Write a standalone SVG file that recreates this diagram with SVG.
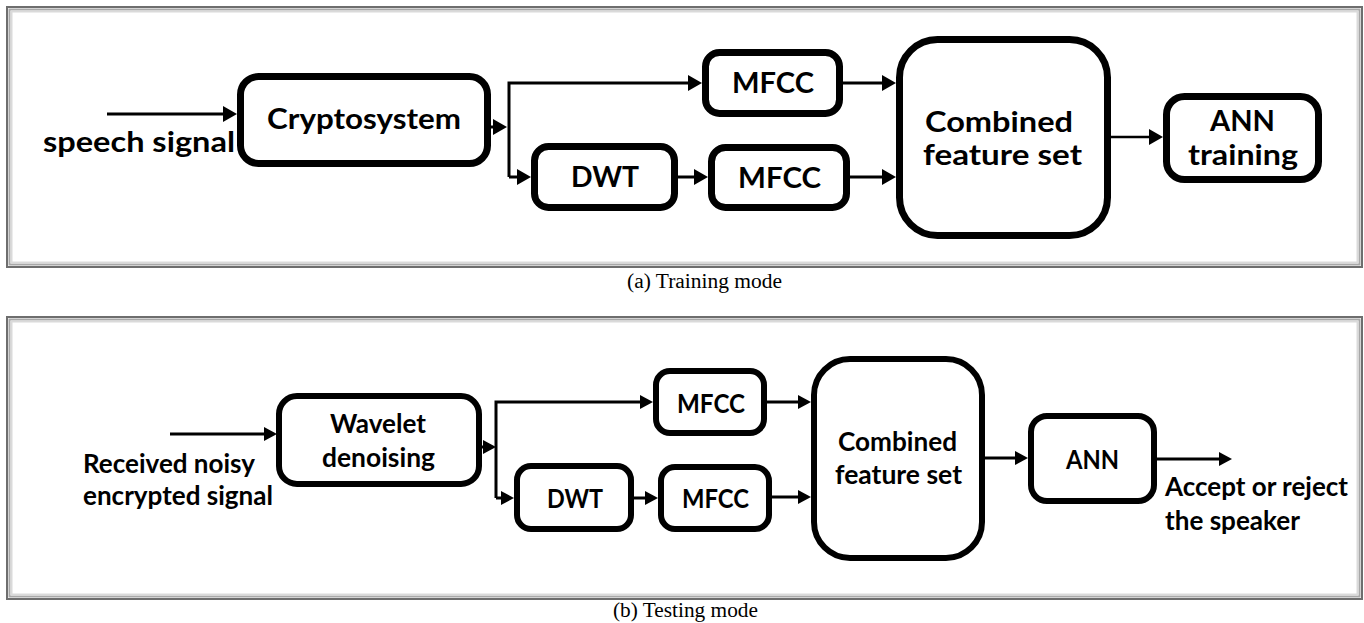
<svg xmlns="http://www.w3.org/2000/svg" width="1364" height="623" viewBox="0 0 1364 623">
  <defs>
    <marker id="arrow" viewBox="0 0 14 16" refX="2" refY="8" markerWidth="14" markerHeight="16" markerUnits="userSpaceOnUse" orient="auto">
      <path d="M0,0 L14,8 L0,16 z" fill="#000"/>
    </marker>
    <marker id="arrow-s" viewBox="0 0 13 14" refX="2" refY="7" markerWidth="13" markerHeight="14" markerUnits="userSpaceOnUse" orient="auto">
      <path d="M0,0 L13,7 L0,14 z" fill="#000"/>
    </marker>
  </defs>
  <style>
    .panel { fill: #fff; stroke: #6e6e6e; stroke-width: 2; }
    .inner1 { fill: none; stroke: #a8a8a8; stroke-width: 2; }
    .inner2 { fill: none; stroke: #dadada; stroke-width: 2; }
    .box { fill: #fff; stroke: #000; stroke-width: 7; }
    .boxb { fill: #fff; stroke: #000; stroke-width: 6; }
    .wire { fill: none; stroke: #000; stroke-width: 3; marker-end: url(#arrow); }
    .wireb { fill: none; stroke: #000; stroke-width: 3; marker-end: url(#arrow-s); }
    .lbl { font-family: Lato, "Open Sans", "Liberation Sans", sans-serif; font-weight: 700; font-size: 28px; fill: #000; }
    .lblb { font-family: Lato, "Open Sans", "Liberation Sans", sans-serif; font-weight: 700; font-size: 26px; fill: #000; }
    .cap { font-family: "Liberation Serif", "Times New Roman", serif; font-size: 20px; fill: #000; }
  </style>

  <!-- panel frames -->
  <g id="panel-training">
    <rect class="panel" x="7" y="7" width="1355" height="260"/>
    <rect class="inner1" x="9.5" y="9.5" width="1350" height="255"/>
    <rect class="inner2" x="11.5" y="11.5" width="1346" height="251"/>
  </g>
  <g id="panel-testing">
    <rect class="panel" x="7" y="317" width="1355" height="282"/>
    <rect class="inner1" x="9.5" y="319.5" width="1350" height="277"/>
    <rect class="inner2" x="11.5" y="321.5" width="1346" height="273"/>
  </g>

  <!-- training mode connectors -->
  <g id="connectors-training">
    <path class="wire" d="M107,114 L225,114"/>
    <path class="wire" d="M491,127 L495,127"/>
    <path class="wire" d="M509,177 L509,83 L690,83"/>
    <path class="wire" d="M509,177 L519,177"/>
    <path class="wire" d="M678,177 L696,177"/>
    <path class="wire" d="M843,83 L884,83"/>
    <path class="wire" d="M850,177 L884,177"/>
    <path class="wire" d="M1111,137 L1151,137" style="stroke-width:2.5"/>
  </g>

  <!-- training mode nodes -->
  <g id="speech-signal">
    <text class="lbl" x="43" y="152" textLength="192" lengthAdjust="spacingAndGlyphs">speech signal</text>
  </g>
  <g id="cryptosystem">
    <rect class="box" x="240.5" y="76.5" width="247" height="87" rx="18"/>
    <text class="lbl" x="267" y="129" textLength="194" lengthAdjust="spacingAndGlyphs">Cryptosystem</text>
  </g>
  <g id="mfcc-a1">
    <rect class="box" x="705.5" y="52.5" width="134" height="61" rx="14"/>
    <text class="lbl" x="732" y="93" textLength="82" lengthAdjust="spacingAndGlyphs">MFCC</text>
  </g>
  <g id="dwt-a">
    <rect class="box" x="534.5" y="146.5" width="140" height="61" rx="14"/>
    <text class="lbl" x="571" y="187" textLength="68" lengthAdjust="spacingAndGlyphs">DWT</text>
  </g>
  <g id="mfcc-a2">
    <rect class="box" x="711.5" y="147.5" width="135" height="60" rx="14"/>
    <text class="lbl" x="738" y="188" textLength="83" lengthAdjust="spacingAndGlyphs">MFCC</text>
  </g>
  <g id="combined-a">
    <rect class="box" x="899.5" y="39.5" width="208" height="196" rx="38"/>
    <text class="lbl" x="925" y="132" textLength="148" lengthAdjust="spacingAndGlyphs">Combined</text>
    <text class="lbl" x="923" y="165" textLength="159" lengthAdjust="spacingAndGlyphs">feature set</text>
  </g>
  <g id="ann-training">
    <rect class="box" x="1166.5" y="96.5" width="152" height="83" rx="18"/>
    <text class="lbl" x="1210" y="131" textLength="65" lengthAdjust="spacingAndGlyphs">ANN</text>
    <text class="lbl" x="1188" y="165" textLength="110" lengthAdjust="spacingAndGlyphs">training</text>
  </g>
  <text class="cap" x="627" y="288" textLength="155" lengthAdjust="spacingAndGlyphs">(a) Training mode</text>

  <!-- testing mode connectors -->
  <g id="connectors-testing">
    <path class="wireb" d="M170,434 L266,434"/>
    <path class="wireb" d="M482,447 L485,447"/>
    <path class="wireb" d="M496,498 L496,402 L642,402"/>
    <path class="wireb" d="M496,498 L503,498"/>
    <path class="wireb" d="M634,498 L647,498"/>
    <path class="wireb" d="M767,402 L800,402"/>
    <path class="wireb" d="M772,497 L800,497"/>
    <path class="wireb" d="M985,458 L1017,458"/>
    <path class="wireb" d="M1157,459 L1221,459"/>
  </g>

  <!-- testing mode nodes -->
  <g id="received-signal">
    <text class="lblb" x="83" y="473" textLength="172" lengthAdjust="spacingAndGlyphs">Received noisy</text>
    <text class="lblb" x="83" y="505" textLength="190" lengthAdjust="spacingAndGlyphs">encrypted signal</text>
  </g>
  <g id="wavelet-denoising">
    <rect class="boxb" x="279" y="396" width="200" height="88" rx="18"/>
    <text class="lblb" x="330" y="433" textLength="96" lengthAdjust="spacingAndGlyphs">Wavelet</text>
    <text class="lblb" x="322" y="467" textLength="113" lengthAdjust="spacingAndGlyphs">denoising</text>
  </g>
  <g id="mfcc-b1">
    <rect class="boxb" x="656" y="371" width="108" height="62" rx="14"/>
    <text class="lblb" x="677" y="413" textLength="68" lengthAdjust="spacingAndGlyphs">MFCC</text>
  </g>
  <g id="dwt-b">
    <rect class="boxb" x="517" y="466" width="114" height="63" rx="14"/>
    <text class="lblb" x="547" y="508" textLength="56" lengthAdjust="spacingAndGlyphs">DWT</text>
  </g>
  <g id="mfcc-b2">
    <rect class="boxb" x="661" y="467" width="108" height="62" rx="14"/>
    <text class="lblb" x="682" y="508" textLength="67" lengthAdjust="spacingAndGlyphs">MFCC</text>
  </g>
  <g id="combined-b">
    <rect class="boxb" x="814" y="359" width="168" height="199" rx="36"/>
    <text class="lblb" x="838" y="451" textLength="119" lengthAdjust="spacingAndGlyphs">Combined</text>
    <text class="lblb" x="835" y="484" textLength="127" lengthAdjust="spacingAndGlyphs">feature set</text>
  </g>
  <g id="ann">
    <rect class="boxb" x="1031" y="416" width="123" height="85" rx="16"/>
    <text class="lblb" x="1066" y="469" textLength="53" lengthAdjust="spacingAndGlyphs">ANN</text>
  </g>
  <g id="decision">
    <text class="lblb" x="1165" y="496" textLength="183" lengthAdjust="spacingAndGlyphs">Accept or reject</text>
    <text class="lblb" x="1165" y="530" textLength="135" lengthAdjust="spacingAndGlyphs">the speaker</text>
  </g>
  <text class="cap" x="613" y="617" textLength="145" lengthAdjust="spacingAndGlyphs">(b) Testing mode</text>
</svg>
